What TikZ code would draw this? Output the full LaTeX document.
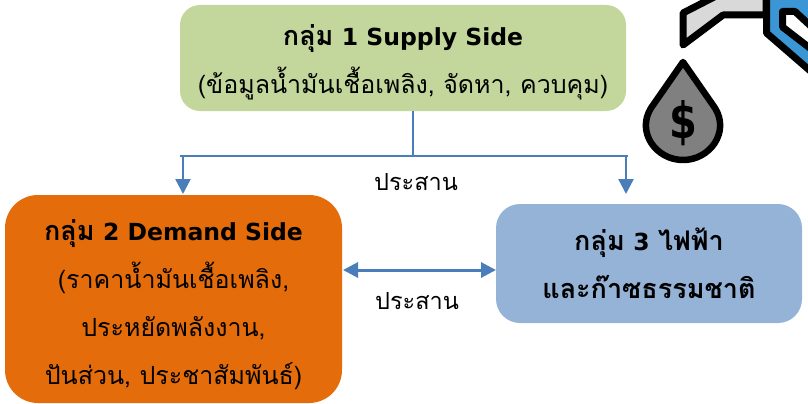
\documentclass[tikz,border=0pt]{standalone}
\usepackage{fontspec}
\setmainfont[Script=Thai]{Loma}
\newfontfamily\latinfont{DejaVu Sans}
\usetikzlibrary{arrows.meta}
\definecolor{boxgreen}{RGB}{195,214,155}
\definecolor{boxorange}{RGB}{228,108,10}
\definecolor{boxblue}{RGB}{149,179,215}
\definecolor{linkblue}{RGB}{74,126,187}
\definecolor{iconblue}{RGB}{58,150,212}
\newcommand{\thaibold}[1]{{\fontsize{27}{48}\selectfont\bfseries #1}}
\newcommand{\latinbold}[1]{{\fontsize{23.5}{48}\selectfont\bfseries\latinfont #1}}
\tikzset{
  group/.style={rounded corners=#1, align=center, font=\fontsize{25}{48}\selectfont},
  linkline/.style={draw=linkblue, line width=2.4pt},
  linkarrow/.style={linkline, -{Triangle[length=15pt,width=15pt]}},
  linkboth/.style={linkline, line width=3pt, {Triangle[length=15pt,width=15pt]}-{Triangle[length=15pt,width=15pt]}},
  linktext/.style={font=\fontsize{23.5}{28}\selectfont},
  iconline/.style={draw=black, line width=7pt, line join=round},
}
\begin{document}
\begin{tikzpicture}[x=1pt, y=-1pt]
\useasboundingbox (0, 0) rectangle (808, 404);
\clip (0, 0) rectangle (808, 404);
\node[group=20pt, fill=boxgreen, minimum width=446pt, minimum height=106pt] (supply) at (403, 58) {\rule{0pt}{30pt}\thaibold{กลุ่ม} \latinbold{1 Supply Side}\\(ข้อมูลน้ำมันเชื้อเพลิง, จัดหา, ควบคุม)};
\node[group=33pt, fill=boxorange, minimum width=337pt, minimum height=208pt] (demand) at (173.5, 299) {\rule{0pt}{32pt}\thaibold{กลุ่ม} \latinbold{2 Demand Side}\\(ราคาน้ำมันเชื้อเพลิง,\\ประหยัดพลังงาน,\\ปันส่วน, ประชาสัมพันธ์)};
\node[group=24pt, fill=boxblue, minimum width=306pt, minimum height=119pt] (power) at (649, 263.5) {\thaibold{กลุ่ม} \latinbold{3} \thaibold{ไฟฟ้า}\\\thaibold{และก๊าซธรรมชาติ}};

\coordinate (trunk) at (413, 111);
\coordinate (branch) at (413, 156);
\coordinate (branchl) at (183, 156);
\coordinate (branchr) at (626, 156);
\coordinate (branchstart) at (180, 156);
\coordinate (branchend) at (628, 156);
\coordinate (demandin) at (183, 194);
\coordinate (powerin) at (626, 194);
\coordinate (demandout) at (343, 270);
\coordinate (powerout) at (496, 270);
\draw[linkline] (trunk) -- (branch);
\draw[linkline] (branchstart) -- (branchend);
\draw[linkarrow] (branchl) -- (demandin);
\draw[linkarrow] (branchr) -- (powerin);
\draw[linkboth] (demandout) -- (powerout);
\node[linktext] (linktop) at (416, 182) {ประสาน};
\node[linktext] (linkbottom) at (417, 301) {ประสาน};

% tap and drop
\filldraw[iconline, fill=black!15] (683, 45) -- (683, 13) -- (720, -6) -- (766, -6) -- (766, 15) -- (723, 15) -- cycle;
\filldraw[iconline, fill=iconblue] (766.5, -6) -- (766.5, 33) -- (815, 75) -- (815, -6) -- cycle;
\filldraw[iconline, fill=white] (782.5, 11.5) -- (782.5, 27) -- (815, 52) -- (815, 30) -- (795, 11.5) -- cycle;
\filldraw[iconline, line width=6.5pt, fill=black!50] (683, 62) -- (715, 108) .. controls (730, 132) and (710, 160) .. (683, 160) .. controls (656, 160) and (636, 132) .. (651, 108) -- cycle;
\node[font=\fontsize{50}{50}\selectfont\bfseries\latinfont, xscale=0.8] (dollar) at (683, 123) {\$};
\end{tikzpicture}
\end{document}
